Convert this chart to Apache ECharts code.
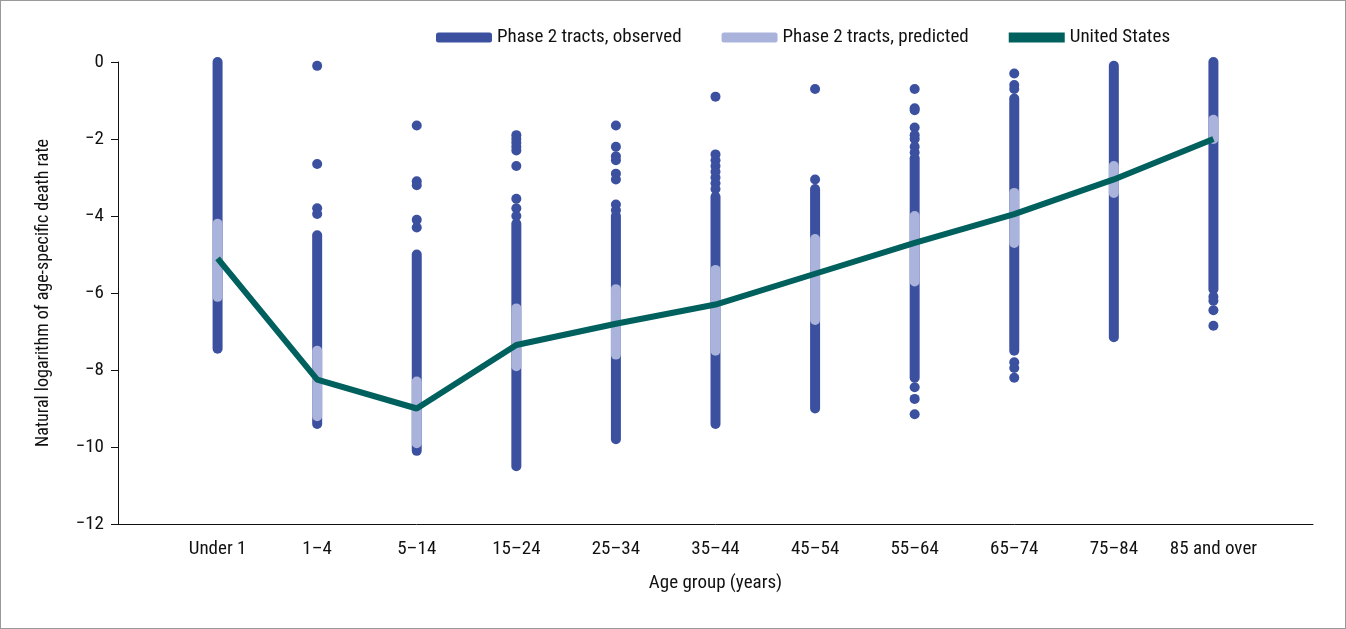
<!DOCTYPE html>
<html><head><meta charset="utf-8">
<script src="https://cdn.jsdelivr.net/npm/echarts@6/dist/echarts.min.js"></script>
<style>html,body{margin:0;padding:0;background:#fff}
#c{width:1344px;height:627px;border:1px solid #999;}</style></head>
<body><div id="c"></div>
<script>
const categories=['Under 1','1–4','5–14','15–24','25–34','35–44','45–54','55–64','65–74','75–84','85 and over'];
const observedLow=[-7.45,-9.4,-10.1,-10.5,-9.8,-9.4,-9.0,-8.2,-7.5,-7.15,-5.9];
const observedHigh=[0,-4.5,-5.0,-4.2,-4.0,-3.5,-3.3,-2.5,-0.95,-0.1,0];
const observedDots=[
 [1,-0.1],[1,-2.65],[1,-3.8],[1,-3.95],
 [2,-1.65],[2,-3.1],[2,-3.2],[2,-4.1],[2,-4.3],
 [3,-1.9],[3,-2.0],[3,-2.1],[3,-2.2],[3,-2.3],[3,-2.7],[3,-3.55],[3,-3.8],[3,-4.0],
 [4,-1.65],[4,-2.2],[4,-2.45],[4,-2.55],[4,-2.9],[4,-3.05],[4,-3.7],[4,-3.85],
 [5,-0.9],[5,-2.4],[5,-2.55],[5,-2.7],[5,-2.85],[5,-3.0],[5,-3.15],[5,-3.3],
 [6,-0.7],[6,-3.05],
 [7,-0.7],[7,-1.2],[7,-1.25],[7,-1.7],[7,-1.9],[7,-2.0],[7,-2.2],[7,-2.35],[7,-8.45],[7,-8.75],[7,-9.15],
 [8,-0.3],[8,-0.6],[8,-0.7],[8,-7.8],[8,-7.95],[8,-8.2],
 [10,-6.1],[10,-6.2],[10,-6.45],[10,-6.85]
];
const predictedLow=[-6.1,-9.2,-9.9,-7.9,-7.6,-7.5,-6.7,-5.7,-4.7,-3.4,-2.0];
const predictedHigh=[-4.2,-7.5,-8.3,-6.4,-5.9,-5.4,-4.6,-4.0,-3.4,-2.7,-1.5];
const usRate=[-5.1,-8.25,-9.0,-7.35,-6.8,-6.3,-5.5,-4.7,-3.95,-3.05,-2.0];

const dark='#3c50a0', light='#a9b3db', teal='#00605e';
function rangeSeries(name,low,high,color,w){
  return {name,type:'custom',data:low.map((l,i)=>[i,l,high[i]]),
    encode:{x:0,y:[1,2]},
    renderItem:(p,api)=>{const a=api.coord([api.value(0),api.value(1)]),b=api.coord([api.value(0),api.value(2)]);
      return {type:'line',shape:{x1:a[0],y1:a[1],x2:b[0],y2:b[1]},style:{stroke:color,lineWidth:w,lineCap:'round'}};}};
}
const font='"Liberation Sans Narrow","Roboto Condensed",Arial,sans-serif';
const chart=echarts.init(document.getElementById('c'));
chart.setOption({
 animation:false,
 textStyle:{fontFamily:font,color:'#111'},
 grid:{left:117,right:32,top:61,bottom:104},
 legend:{top:22,left:430,itemGap:40,itemWidth:56,itemHeight:10,textStyle:{fontSize:19,fontFamily:font,color:'#111'},
   data:[{name:'Phase 2 tracts, observed',icon:'roundRect',itemStyle:{color:dark}},
         {name:'Phase 2 tracts, predicted',icon:'roundRect',itemStyle:{color:light}},
         {name:'United States',icon:'rect',itemStyle:{color:teal}}]},
 xAxis:{type:'value',min:-1,max:11,interval:1,splitLine:{show:false},axisTick:{show:false},
   axisLine:{onZero:false,lineStyle:{color:'#111'}},
   axisLabel:{fontSize:19,color:'#111',margin:16,formatter:v=>categories[v]||''},
   name:'Age group (years)',nameLocation:'middle',nameGap:50,nameTextStyle:{fontSize:19,color:'#111'}},
 yAxis:{type:'value',min:-12,max:0,interval:2,splitLine:{show:false},
   axisLine:{show:true,onZero:false,lineStyle:{color:'#111'}},axisTick:{show:true,length:7,lineStyle:{color:'#111'}},
   axisLabel:{fontSize:19,color:'#111',margin:14,formatter:v=>v<0?'−'+Math.abs(v):String(v)},
   name:'Natural logarithm of age-specific death rate',nameLocation:'middle',nameGap:66,nameTextStyle:{fontSize:18,color:'#111'}},
 series:[
  rangeSeries('Phase 2 tracts, observed',observedLow,observedHigh,dark,10),
  {name:'Phase 2 tracts, observed',type:'scatter',data:observedDots,symbolSize:10,itemStyle:{color:dark,opacity:1}},
  rangeSeries('Phase 2 tracts, predicted',predictedLow,predictedHigh,light,10),
  {name:'United States',type:'line',data:usRate.map((v,i)=>[i,v]),symbol:'none',lineStyle:{color:teal,width:6},z:5}
 ]
});
</script></body></html>
